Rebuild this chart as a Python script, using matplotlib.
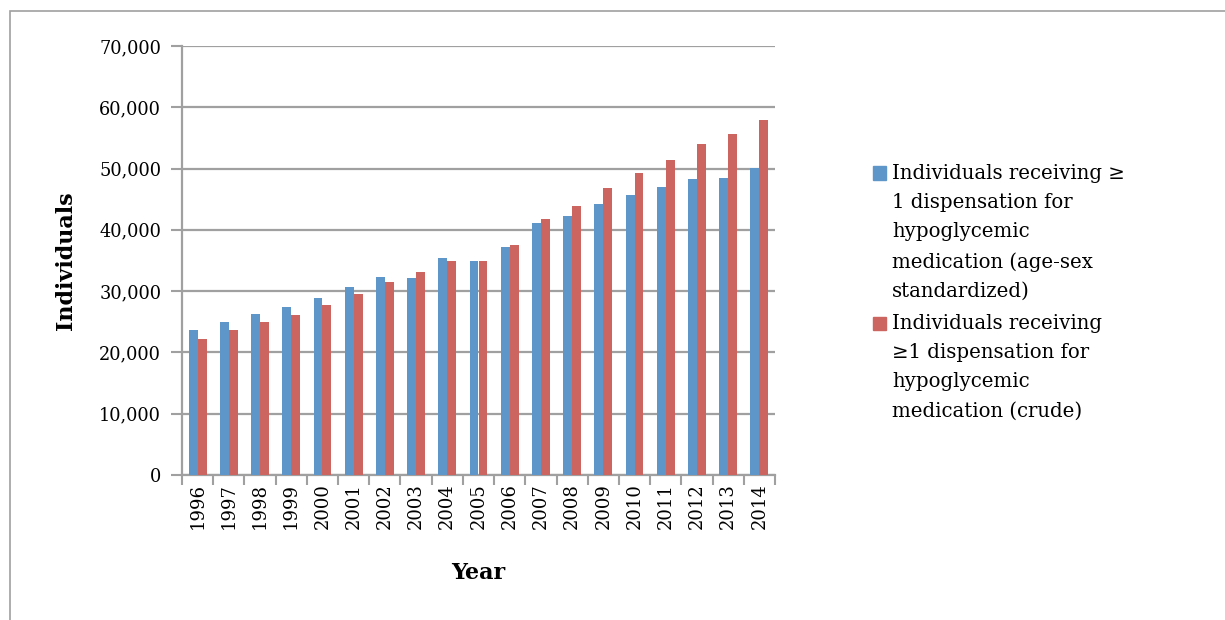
import matplotlib
matplotlib.use("Agg")
from matplotlib import pyplot as plt
from matplotlib.patches import Rectangle
from matplotlib.ticker import FuncFormatter, MultipleLocator
import numpy as np

years = [str(y) for y in range(1996, 2015)]
standardized = [23660, 25030, 26340, 27380, 28850, 30600, 32300, 32080, 35410, 34840,
                37230, 41200, 42230, 44180, 45760, 47010, 48260, 48480, 50110]
crude = [22240, 23600, 24970, 26120, 27810, 29560, 31480, 33060, 34920, 34840,
         37610, 41850, 43910, 46790, 49240, 51410, 53970, 55600, 57880]
legendLabels = ["Individuals receiving \u2265\n1 dispensation for\nhypoglycemic\nmedication (age-sex\nstandardized)",
                "Individuals receiving\n\u22651 dispensation for\nhypoglycemic\nmedication (crude)"]

blue = "#5F96C9"
red = "#CC6560"
grey = "#A0A0A0"
font = "DejaVu Serif"

fig = plt.figure(figsize=(12.25, 6.2), dpi=100)
ax = fig.add_axes([182 / 1225, 1 - 475 / 620, 593 / 1225, 429 / 620])

x = np.arange(len(years))
w = 0.285
ax.bar(x - w / 2, standardized, w, color=blue, zorder=3)
ax.bar(x + w / 2, crude, w, color=red, zorder=3)

ax.set_xlim(-0.5, len(years) - 0.5)
ax.set_ylim(0, 70000)
ax.yaxis.set_major_locator(MultipleLocator(10000))
ax.yaxis.set_major_formatter(FuncFormatter(lambda v, p: f"{int(v):,}"))
ax.grid(axis="y", color=grey, linewidth=1.6, zorder=0)

# category boundaries get the ticks, labels sit in the middle
ax.set_xticks(np.arange(len(years) + 1) - 0.5)
ax.set_xticklabels([])
ax.set_xticks(x, minor=True)
ax.set_xticklabels(years, minor=True, rotation=90, fontfamily=font, fontsize=13)
ax.tick_params(axis="x", which="major", length=7, width=1.5, color=grey, direction="out")
ax.tick_params(axis="x", which="minor", length=0, pad=6)
ax.tick_params(axis="y", length=8, width=1.5, color=grey, pad=7)
for lbl in ax.get_yticklabels():
    lbl.set_fontfamily(font)
    lbl.set_fontsize(12.8)

for side in ["top", "right"]:
    ax.spines[side].set_visible(False)
for side in ["left", "bottom"]:
    ax.spines[side].set_color(grey)
    ax.spines[side].set_linewidth(1.6)

fig.text(66 / 1225, 1 - 261 / 620, "Individuals", rotation=90, ha="center", va="center",
         fontfamily=font, fontweight="bold", fontsize=16)
fig.text(478 / 1225, 1 - 573 / 620, "Year", ha="center", va="center",
         fontfamily=font, fontweight="bold", fontsize=16)

# legend, squares lined up with the first text line
for label, color, top in zip(legendLabels, [blue, red], [173, 323]):
    fig.patches.append(Rectangle((873 / 1225, 1 - (top + 6.5) / 620), 13 / 1225, 13 / 620,
                                 transform=fig.transFigure, color=color, figure=fig))
    fig.text(892 / 1225, 1 - (top - 9) / 620, label, ha="left", va="top",
             fontfamily=font, fontsize=14.2, linespacing=1.68)

# chart area frame
fig.patches.append(Rectangle((10 / 1225, -0.1), 1.2, 1 - 11 / 620 + 0.1, transform=fig.transFigure,
                             fill=False, edgecolor=grey, linewidth=1.2, figure=fig))

fig.savefig("out.png", dpi=100)
